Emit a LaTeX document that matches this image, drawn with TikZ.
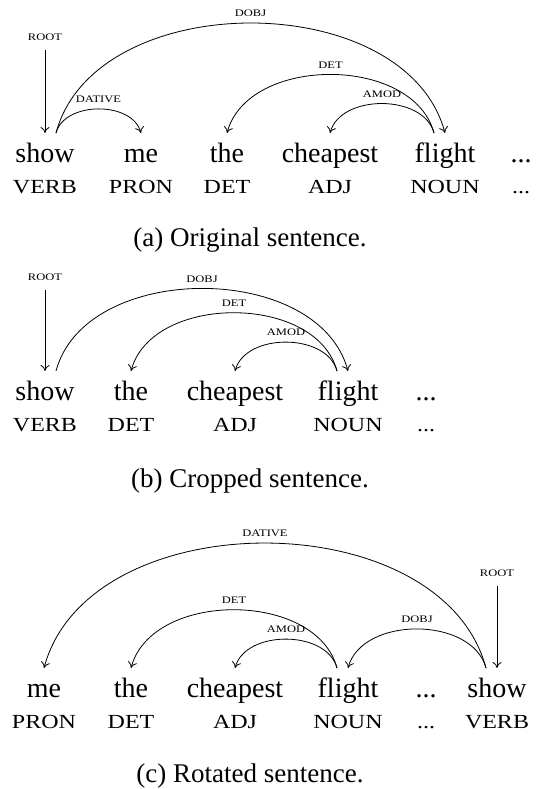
\documentclass[tikz,border=0pt]{standalone}
\usepackage{fontspec}
\setmainfont{Liberation Serif}
\newfontfamily\tagfont[FakeStretch=1.2]{Liberation Serif}
\newfontfamily\relfont[FakeStretch=1.25]{Liberation Serif}
\usetikzlibrary{arrows.meta}

\begin{document}
\begin{tikzpicture}[x=1pt,y=1pt,->,>={To[length=6pt,width=9pt]},line width=0.8pt]
        \tikzstyle{word}=[font=\fontsize{28}{30}\selectfont, anchor=base, inner sep=0pt, outer sep=0pt, text height=29pt]
        \tikzstyle{tag}=[font=\tagfont\fontsize{20}{22}\selectfont, anchor=base, inner sep=0pt]
        \tikzstyle{rel}=[font=\relfont\fontsize{10}{11}\selectfont, inner sep=1pt]
        \tikzstyle{lab}=[rel, midway, above=5pt]
        \tikzstyle{arcright}=[out=75, in=105, looseness=1]
        \tikzstyle{arcleft}=[out=105, in=75, looseness=1]
        \tikzstyle{rootline}=[shorten <=8pt]
        \tikzstyle{subcap}=[font=\fontsize{27}{30}\selectfont, anchor=base]

        \useasboundingbox (0,0) rectangle (536,-789);

        \node[word]  (showa)     at (45,-162)  {show};
        \node[word]  (mea)       at (141,-162) {me};
        \node[word]  (thea)      at (227,-162) {the};
        \node[word]  (cheapesta) at (330,-162) {cheapest};
        \node[word]  (flighta)   at (445,-162) {flight};
        \node[word]  (dotsa)     at (521,-162) {...};
        \node[tag]   (verba)     at ([yshift=-31pt]showa.base)     {VERB};
        \node[tag]   (prona)     at ([yshift=-31pt]mea.base)       {PRON};
        \node[tag]   (deta)      at ([yshift=-31pt]thea.base)      {DET};
        \node[tag]   (adja)      at ([yshift=-31pt]cheapesta.base) {ADJ};
        \node[tag]   (nouna)     at ([yshift=-31pt]flighta.base)   {NOUN};
        \node[tag]   (tdotsa)    at ([yshift=-31pt]dotsa.base)     {...};
        \node[rel]   (roota)     at (45,-37)   {ROOT};
        \node[subcap] (capa)     at (250,-246) {(a) Original sentence.};

        \path (roota) edge [rootline] (showa.north)
              ([xshift=11pt]showa.north) edge [arcright] node [lab] {DATIVE} (mea.north)
              ([xshift=11pt]showa.north) edge [arcright] node [lab] {DOBJ} (flighta.north)
              ([xshift=-11pt]flighta.north) edge [arcleft] node [lab] {DET} (thea.north)
              ([xshift=-11pt]flighta.north) edge [arcleft] node [lab] {AMOD} (cheapesta.north);

        \node[word]  (showb)     at (45,-400)  {show};
        \node[word]  (theb)      at (131,-400) {the};
        \node[word]  (cheapestb) at (235,-400) {cheapest};
        \node[word]  (flightb)   at (348,-400) {flight};
        \node[word]  (dotsb)     at (426,-400) {...};
        \node[tag]   (verbb)     at ([yshift=-31pt]showb.base)     {VERB};
        \node[tag]   (detb)      at ([yshift=-31pt]theb.base)      {DET};
        \node[tag]   (adjb)      at ([yshift=-31pt]cheapestb.base) {ADJ};
        \node[tag]   (nounb)     at ([yshift=-31pt]flightb.base)   {NOUN};
        \node[tag]   (tdotsb)    at ([yshift=-31pt]dotsb.base)     {...};
        \node[rel]   (rootb)     at (45,-277)  {ROOT};
        \node[subcap] (capb)     at (250,-487) {(b) Cropped sentence.};

        \path (rootb) edge [rootline] (showb.north)
              ([xshift=11pt]showb.north) edge [arcright] node [lab] {DOBJ} (flightb.north)
              ([xshift=-11pt]flightb.north) edge [arcleft] node [lab] {DET} (theb.north)
              ([xshift=-11pt]flightb.north) edge [arcleft] node [lab] {AMOD} (cheapestb.north);

        \node[word]  (mec)       at (44,-697)  {me};
        \node[word]  (thec)      at (131,-697) {the};
        \node[word]  (cheapestc) at (235,-697) {cheapest};
        \node[word]  (flightc)   at (348,-697) {flight};
        \node[word]  (dotsc)     at (426,-697) {...};
        \node[word]  (showc)     at (497,-697) {show};
        \node[tag]   (pronc)     at ([yshift=-31pt]mec.base)       {PRON};
        \node[tag]   (detc)      at ([yshift=-31pt]thec.base)      {DET};
        \node[tag]   (adjc)      at ([yshift=-31pt]cheapestc.base) {ADJ};
        \node[tag]   (nounc)     at ([yshift=-31pt]flightc.base)   {NOUN};
        \node[tag]   (tdotsc)    at ([yshift=-31pt]dotsc.base)     {...};
        \node[tag]   (verbc)     at ([yshift=-31pt]showc.base)     {VERB};
        \node[rel]   (rootc)     at (497,-573) {ROOT};
        \node[subcap] (capc)     at (250,-782) {(c) Rotated sentence.};

        \path (rootc) edge [rootline] (showc.north)
              ([xshift=-11pt]showc.north) edge [arcleft] node [lab] {DATIVE} (mec.north)
              ([xshift=-11pt]flightc.north) edge [arcleft] node [lab] {DET} (thec.north)
              ([xshift=-11pt]flightc.north) edge [arcleft] node [lab] {AMOD} (cheapestc.north)
              ([xshift=-11pt]showc.north) edge [arcleft] node [lab] {DOBJ} (flightc.north);
\end{tikzpicture}
\end{document}
